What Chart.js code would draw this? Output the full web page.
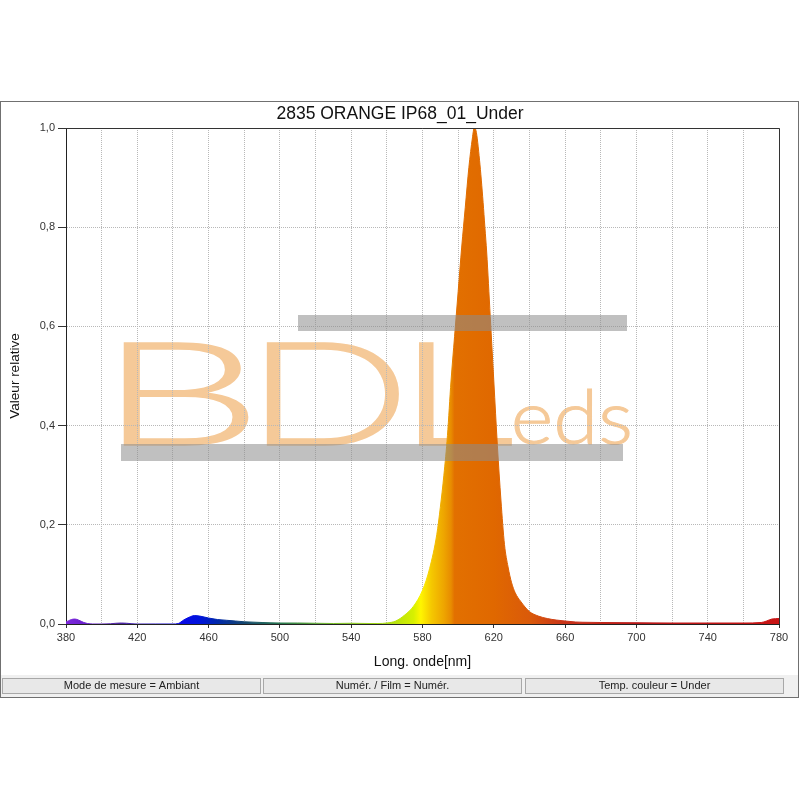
<!DOCTYPE html>
<html>
<head>
<meta charset="utf-8">
<script src="https://cdn.jsdelivr.net/npm/chart.js@4"></script>
<style>
  html, body { margin: 0; padding: 0; background: #fff; }
  canvas { display: block; }
</style>
</head>
<body>
<canvas id="spectrum" width="800" height="800"></canvas>
<script>
// Spectrum data (wavelength in nm, relative value)
const wavelengths = [380, 383, 385, 387, 390, 392, 395, 400, 405, 408, 411, 414, 417, 420, 430, 440,
    443, 446, 450, 452, 455, 460, 465, 470, 475, 480, 490, 500, 510, 520, 530, 540, 550, 555, 560,
    565, 570, 575, 580, 584, 588, 590, 592, 594, 596, 598, 600, 602, 604, 606, 608, 609, 610, 612,
    614, 615, 616, 618, 620, 622, 624, 626, 628, 630, 632, 635, 640, 645, 650, 655, 660, 666, 670,
    680, 700, 720, 740, 760, 770, 773, 776, 780];
const intensity = [0.004, 0.009, 0.010, 0.008, 0.003, 0.001, 0, 0, 0.0005, 0.0015, 0.002, 0.0015, 0.0005, 0, 0, 0,
    0.001, 0.008, 0.015, 0.017, 0.016, 0.012, 0.009, 0.0075, 0.006, 0.0045, 0.003, 0.002, 0.002, 0.0015, 0.001, 0.0015, 0.001, 0.001, 0.002,
    0.006, 0.018, 0.036, 0.068, 0.112, 0.18, 0.235, 0.30, 0.38, 0.49, 0.58, 0.67, 0.76, 0.84, 0.92, 0.98, 1.0, 0.995, 0.935,
    0.85, 0.80, 0.75, 0.62, 0.49, 0.36, 0.25, 0.16, 0.115, 0.083, 0.063, 0.046, 0.025, 0.016, 0.011, 0.008, 0.006, 0.004, 0.0035,
    0.003, 0.0025, 0.002, 0.002, 0.002, 0.003, 0.006, 0.010, 0.011];

const xMin = 380, xMax = 780, xLabelStep = 40;
const chartTitle = '2835 ORANGE IP68_01_Under';
const xTitle = 'Long. onde[nm]';
const yTitle = 'Valeur relative';
const statusCells = ['Mode de mesure = Ambiant', 'Numér. / Film = Numér.', 'Temp. couleur = Under'];

// colour of the fill along the wavelength axis
const spectrumStops = [
    [380, 'rgb(125,40,220)'], [395, 'rgb(100,30,200)'], [410, 'rgb(80,40,160)'], [430, 'rgb(40,20,200)'],
    [445, 'rgb(10,10,230)'], [455, 'rgb(0,20,220)'], [465, 'rgb(0,40,170)'], [480, 'rgb(20,70,110)'],
    [500, 'rgb(40,120,80)'], [530, 'rgb(120,190,40)'], [560, 'rgb(170,220,20)'], [575, 'rgb(215,240,0)'],
    [579, 'rgb(255,245,0)'], [585, 'rgb(245,200,0)'], [592, 'rgb(238,165,0)'], [596, 'rgb(232,140,0)'],
    [598, 'rgb(226,112,0)'], [620, 'rgb(224,104,0)'], [640, 'rgb(218,90,10)'], [660, 'rgb(200,50,25)'],
    [700, 'rgb(185,25,25)'], [780, 'rgb(200,20,20)']
];

function spectrumGradient(context) {
    const chart = context.chart;
    if (!chart.chartArea) return 'rgb(224,104,0)';
    const xs = chart.scales.x;
    const x0 = xs.getPixelForValue(xMin), x1 = xs.getPixelForValue(xMax);
    const g = chart.ctx.createLinearGradient(x0, 0, x1, 0);
    spectrumStops.forEach(([nm, c]) => g.addColorStop((nm - xMin) / (xMax - xMin), c));
    return g;
}

const isLabelled = (v) => Math.round(v - xMin) % xLabelStep === 0;

// draw text stretched to fit between x1 and x2
function fitText(ctx, text, x1, x2, baseline, font, extra) {
    ctx.font = font;
    const m = ctx.measureText(text);
    const w = m.actualBoundingBoxLeft + m.actualBoundingBoxRight;
    ctx.save();
    ctx.translate(x1, baseline);
    ctx.scale((x2 - x1) / w, 1);
    ctx.textAlign = 'left';
    ctx.textBaseline = 'alphabetic';
    ctx.fillText(text, m.actualBoundingBoxLeft, 0);
    if (extra) {
        ctx.strokeStyle = ctx.fillStyle;
        ctx.lineWidth = extra;
        ctx.strokeText(text, m.actualBoundingBoxLeft, 0);
    }
    ctx.restore();
}

const decorPlugin = {
    id: 'decor',
    beforeDraw(chart) {
        const ctx = chart.ctx;
        ctx.save();
        ctx.fillStyle = '#fff';
        ctx.fillRect(0, 0, chart.width, chart.height);
        // watermark letters: drawn first, so grid and spectrum go on top
        ctx.fillStyle = 'rgb(245,201,152)';
        const big = '300 144px Lato';
        fitText(ctx, 'B', 125, 248, 445, big, 1.5);
        fitText(ctx, 'D', 268, 398, 445, big, 1.5);
        fitText(ctx, 'L', 420, 511, 445, big, 1.5);
        fitText(ctx, 'eds', 514, 629, 444, '300 74px Lato', 1);
        ctx.restore();
    },
    afterDatasetsDraw(chart) {
        const ctx = chart.ctx;
        const a = chart.chartArea;
        ctx.save();
        ctx.fillStyle = 'rgba(140,140,140,0.55)';
        ctx.fillRect(298, 315, 329, 16);
        ctx.fillRect(121, 444, 502, 17);
        // plot box top and right edges
        ctx.strokeStyle = '#333';
        ctx.lineWidth = 1;
        ctx.beginPath();
        ctx.moveTo(a.left, a.top + 0.5);
        ctx.lineTo(a.right + 0.5, a.top + 0.5);
        ctx.lineTo(a.right + 0.5, a.bottom);
        ctx.stroke();
        ctx.restore();
    },
    afterDraw(chart) {
        const ctx = chart.ctx;
        const a = chart.chartArea;
        ctx.save();
        ctx.fillStyle = '#111';
        ctx.textAlign = 'center';
        ctx.textBaseline = 'middle';
        ctx.font = '17.5px "Liberation Sans"';
        ctx.fillText(chartTitle, 400, 114);
        ctx.font = '14px "Liberation Sans"';
        ctx.fillText(xTitle, (a.left + a.right) / 2, 662);
        ctx.save();
        ctx.translate(15, (a.top + a.bottom) / 2);
        ctx.rotate(-Math.PI / 2);
        ctx.font = '13.5px "Liberation Sans"';
        ctx.fillText(yTitle, 0, 0);
        ctx.restore();

        // status strip
        ctx.fillStyle = '#f0f0f0';
        ctx.fillRect(1, 675, 797, 22);
        const cells = [[2, 259], [263, 259], [525, 259]];
        ctx.font = '11px "Liberation Sans"';
        cells.forEach(([x, w], i) => {
            ctx.fillStyle = '#e8e8e8';
            ctx.fillRect(x, 678, w, 16);
            ctx.strokeStyle = '#a8a8a8';
            ctx.strokeRect(x + 0.5, 678.5, w - 1, 15);
            ctx.fillStyle = '#222';
            ctx.fillText(statusCells[i], x + w / 2, 686);
        });

        // outer frame
        ctx.strokeStyle = '#707070';
        ctx.strokeRect(0.5, 101.5, 798, 596);
        ctx.restore();
    }
};

new Chart(document.getElementById('spectrum'), {
    type: 'line',
    data: {
        datasets: [{
            data: wavelengths.map((w, i) => ({ x: w, y: intensity[i] })),
            fill: 'origin',
            backgroundColor: spectrumGradient,
            borderColor: spectrumGradient,
            borderWidth: 1,
            pointRadius: 0,
            cubicInterpolationMode: 'monotone'
        }]
    },
    options: {
        responsive: false,
        devicePixelRatio: 1,
        animation: false,
        layout: { padding: { left: 0, right: 21, top: 128, bottom: 0 } },
        plugins: { legend: { display: false }, tooltip: { enabled: false } },
        scales: {
            x: {
                type: 'linear',
                min: xMin,
                max: xMax,
                afterFit: (s) => { s.height = 176; },
                ticks: {
                    stepSize: 20,
                    autoSkip: false,
                    maxRotation: 0,
                    padding: 3,
                    color: '#333',
                    font: { family: '"Liberation Sans"', size: 11 },
                    callback: (v) => (isLabelled(v) ? String(v) : '')
                },
                grid: {
                    color: '#b8b8b8',
                    tickLength: 4,
                    tickColor: (c) => (c.tick && isLabelled(c.tick.value) ? '#333' : 'rgba(0,0,0,0)')
                },
                border: { color: '#222', width: 1, dash: [1, 1] }
            },
            y: {
                min: 0,
                max: 1,
                afterFit: (s) => { s.width = 66; },
                ticks: {
                    stepSize: 0.2,
                    padding: 3,
                    color: '#333',
                    font: { family: '"Liberation Sans"', size: 11 },
                    callback: (v) => v.toFixed(1).replace('.', ',')
                },
                grid: { color: '#b8b8b8', tickLength: 8, tickColor: '#333' },
                border: { color: '#222', width: 1, dash: [1, 1] }
            }
        }
    },
    plugins: [decorPlugin]
});
</script>
</body>
</html>
